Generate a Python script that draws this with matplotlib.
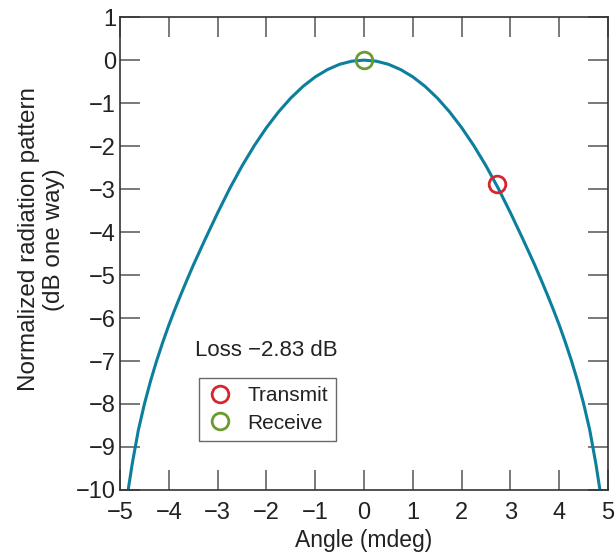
import matplotlib.pyplot as plt
import numpy as np

plt.rcParams['font.family'] = ['Liberation Sans', 'DejaVu Sans']

# radiation pattern (angle in mdeg, dB one way)
angle = [-4.835, -4.75, -4.625, -4.5, -4.375, -4.25, -4.125, -4.0, -3.875, -3.75,
         -3.625, -3.5, -3.25, -3.0, -2.75, -2.5, -2.25, -2.0, -1.75, -1.5,
         -1.25, -1.0, -0.75, -0.5, -0.25, 0.0,
         0.25, 0.5, 0.75, 1.0, 1.25, 1.5, 1.75, 2.0, 2.25, 2.5,
         2.75, 3.0, 3.25, 3.5, 3.625, 3.75, 3.875, 4.0, 4.125, 4.25,
         4.375, 4.5, 4.625, 4.75, 4.835]
pattern_db = [-10.0, -9.38, -8.6, -7.99, -7.46, -6.99, -6.56, -6.16, -5.79, -5.44,
              -5.1, -4.77, -4.15, -3.55, -2.98, -2.46, -1.99, -1.57, -1.2, -0.88,
              -0.61, -0.39, -0.22, -0.097, -0.024, 0.0,
              -0.024, -0.097, -0.22, -0.39, -0.61, -0.88, -1.2, -1.57, -1.99, -2.46,
              -2.98, -3.55, -4.15, -4.77, -5.1, -5.44, -5.79, -6.16, -6.56, -6.99,
              -7.46, -7.99, -8.6, -9.38, -10.0]

tx_angle, tx_db = 2.735, -2.89
rx_angle, rx_db = 0.0, 0.0
loss_text = 'Loss \u22122.83 dB'

x_ticks = np.arange(-5, 6, 1)
y_ticks = np.arange(-10, 2, 1)

fig = plt.figure(figsize=(6.16, 5.53), dpi=100)
ax = fig.add_axes([0.195, 0.114, 0.792, 0.855])

ax.plot(angle, pattern_db, color='#0b7f9c', lw=2.2, zorder=2)
ax.plot(tx_angle, tx_db, 'o', ms=12, mfc='none', mec='#d7242e', mew=2,
        label='Transmit', zorder=3)
ax.plot(rx_angle, rx_db, 'o', ms=12, mfc='none', mec='#6b9a2e', mew=2,
        label='Receive', zorder=3)

ax.set_xlim(-5, 5)
ax.set_ylim(-10, 1)
ax.set_xticks(x_ticks)
ax.set_yticks(y_ticks)
ax.set_xticklabels([str(v).replace('-', '\u2212') for v in x_ticks])
ax.set_yticklabels([str(v).replace('-', '\u2212') for v in y_ticks])
ax.tick_params(direction='in', length=14.5, width=1.1, color='#555555',
               top=True, right=True, labelsize=17, labelcolor='#222222')
ax.tick_params(axis='x', pad=9)
ax.tick_params(axis='y', pad=3)
for s in ax.spines.values():
    s.set_color('#333333')
    s.set_linewidth(1.2)

ax.set_xlabel('Angle (mdeg)', fontsize=16.5, color='#222222', labelpad=3)
ax.set_ylabel('Normalized radiation pattern\n(dB one way)', fontsize=17.5,
              color='#222222')
ax.yaxis.set_label_coords(-0.113, 0.53)

ax.text(0.154, 0.294, loss_text, transform=ax.transAxes, fontsize=16,
        color='#222222', va='center', ha='left')

leg = ax.legend(loc='upper left', bbox_to_anchor=(0.162, 0.237), fontsize=15,
                frameon=True, fancybox=False, edgecolor='#444444',
                handletextpad=0.7, borderpad=0.4, labelspacing=0.4,
                handlelength=1.2, borderaxespad=0)
leg.get_frame().set_linewidth(1.0)
for t in leg.get_texts():
    t.set_color('#222222')

plt.savefig('out.png', dpi=100)
